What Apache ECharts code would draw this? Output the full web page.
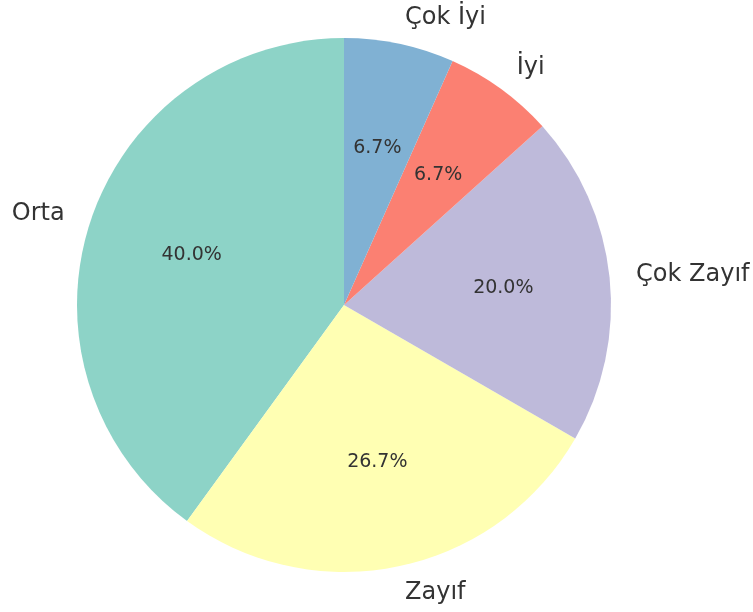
<!DOCTYPE html>
<html>
<head>
<meta charset="utf-8">
<script src="https://cdn.jsdelivr.net/npm/echarts@6/dist/echarts.min.js"></script>
<style>
  html, body { margin: 0; padding: 0; background: #fff; }
  #chart { width: 753px; height: 612px; }
</style>
</head>
<body>
<div id="chart"></div>
<script>
// categories + counts (15 in total)
const categories = ['Orta', 'Zayıf', 'Çok Zayıf', 'İyi', 'Çok İyi']
const counts = [6, 4, 3, 1, 1]
const colors = ['#8dd3c7', '#ffffb3', '#bebada', '#fb8072', '#80b1d3']

const R = 267
const total = counts.reduce((a, b) => a + b, 0)
const pieData = categories.map((name, i) => ({ name: name, value: counts[i], itemStyle: { color: colors[i] } }))

const chart = echarts.init(document.getElementById('chart'))
chart.setOption({
  backgroundColor: '#fff',
  animation: false,
  textStyle: { fontFamily: 'DejaVu Sans' },
  series: [
    {
      // slices + names outside (label at 1.1 * r)
      type: 'pie',
      center: [344, 305],
      radius: [0, R],
      startAngle: 90,
      clockwise: false,
      avoidLabelOverlap: false,
      silent: true,
      data: pieData,
      label: {
        show: true,
        position: 'outside',
        fontSize: 24,
        color: '#333',
        fontFamily: 'DejaVu Sans',
        distanceToLabelLine: 0
      },
      labelLine: { show: false, length: R * 0.1, length2: 0 }
    },
    {
      // transparent ring only to place the percentages at 0.6 * r
      // (echarts pushes inside labels 3px outward, so take that off)
      type: 'pie',
      center: [344, 305],
      radius: [0, R * 1.2 - 6],
      startAngle: 90,
      clockwise: false,
      silent: true,
      data: categories.map((name, i) => ({ name: name, value: counts[i], itemStyle: { color: 'rgba(0,0,0,0)' } })),
      label: {
        show: true,
        position: 'inside',
        fontSize: 19,
        color: '#333',
        fontFamily: 'DejaVu Sans',
        formatter: p => (p.value / total * 100).toFixed(1) + '%'
      },
      labelLine: { show: false }
    }
  ]
})
</script>
</body>
</html>
